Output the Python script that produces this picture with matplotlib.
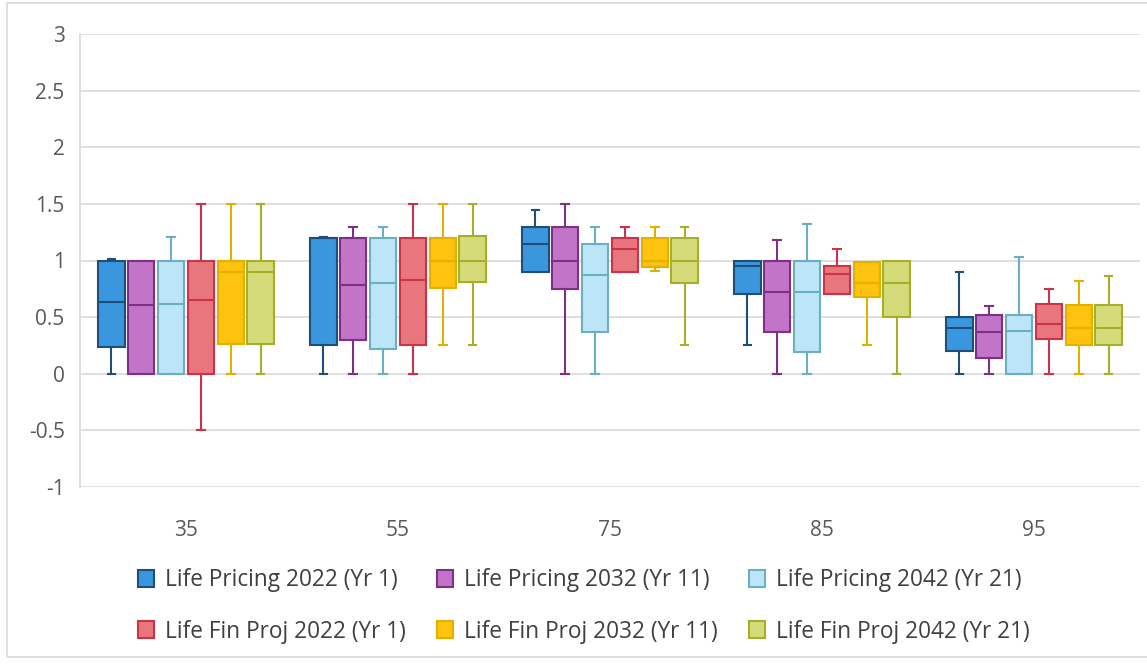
import matplotlib
matplotlib.use("Agg")
import matplotlib.pyplot as plt
from matplotlib.patches import Patch, Rectangle

plt.rcParams['font.family'] = ['Open Sans', 'DejaVu Sans']

# Age bands on the x axis
categories = ["35", "55", "75", "85", "95"]

# Box statistics per age band: (min, q1, median, q3, max)
life_pricing_2022 = [(0.00, 0.24, 0.63, 1.00, 1.01), (0.00, 0.25, 1.20, 1.20, 1.21),
                     (0.90, 0.90, 1.15, 1.30, 1.45), (0.25, 0.70, 0.95, 1.00, 1.00),
                     (0.00, 0.20, 0.40, 0.50, 0.90)]
life_pricing_2032 = [(0.00, 0.00, 0.61, 1.00, 1.00), (0.00, 0.30, 0.78, 1.20, 1.30),
                     (0.00, 0.75, 1.00, 1.30, 1.50), (0.00, 0.37, 0.72, 1.00, 1.18),
                     (0.00, 0.14, 0.37, 0.52, 0.60)]
life_pricing_2042 = [(0.00, 0.00, 0.62, 1.00, 1.21), (0.00, 0.22, 0.80, 1.20, 1.30),
                     (0.00, 0.37, 0.87, 1.15, 1.30), (0.00, 0.19, 0.72, 1.00, 1.32),
                     (0.00, 0.00, 0.38, 0.52, 1.03)]
life_fin_proj_2022 = [(-0.50, 0.00, 0.65, 1.00, 1.50), (0.00, 0.25, 0.83, 1.20, 1.50),
                      (0.90, 0.90, 1.10, 1.20, 1.30), (0.70, 0.70, 0.88, 0.95, 1.10),
                      (0.00, 0.31, 0.44, 0.62, 0.75)]
life_fin_proj_2032 = [(0.00, 0.26, 0.90, 1.00, 1.50), (0.25, 0.76, 1.00, 1.20, 1.50),
                      (0.91, 0.94, 1.00, 1.20, 1.30), (0.25, 0.68, 0.80, 0.99, 0.99),
                      (0.00, 0.25, 0.40, 0.61, 0.82)]
life_fin_proj_2042 = [(0.00, 0.26, 0.90, 1.00, 1.50), (0.25, 0.81, 1.00, 1.22, 1.50),
                      (0.25, 0.80, 1.00, 1.20, 1.30), (0.00, 0.50, 0.80, 1.00, 1.00),
                      (0.00, 0.25, 0.40, 0.61, 0.86)]

series_labels = ["Life Pricing 2022 (Yr 1)", "Life Pricing 2032 (Yr 11)", "Life Pricing 2042 (Yr 21)",
                 "Life Fin Proj 2022 (Yr 1)", "Life Fin Proj 2032 (Yr 11)", "Life Fin Proj 2042 (Yr 21)"]
series_data = [life_pricing_2022, life_pricing_2032, life_pricing_2042,
               life_fin_proj_2022, life_fin_proj_2032, life_fin_proj_2042]
face_colors = ["#3A97DD", "#C274C8", "#BDE5F8", "#E9767C", "#FFC20E", "#D5DB79"]
edge_colors = ["#1F4E79", "#7E3184", "#6BB0C0", "#C9334B", "#E2B100", "#A6AE2C"]

fig = plt.figure(figsize=(11.47, 6.71), dpi=100)
ax = fig.add_axes([80 / 1147, 1 - 487 / 671, 1060 / 1147, 453 / 671])

step = 0.141
width = 0.125
for k, (data, fc, ec) in enumerate(zip(series_data, face_colors, edge_colors)):
    stats = [dict(whislo=s[0], q1=s[1], med=s[2], q3=s[3], whishi=s[4], fliers=[])
             for s in data]
    pos = [i + (k - 2.5) * step for i in range(len(categories))]
    ax.bxp(stats, positions=pos, widths=width, patch_artist=True, showfliers=False,
           capwidths=0.035,
           boxprops=dict(facecolor=fc, edgecolor=ec, linewidth=1.5),
           medianprops=dict(color=ec, linewidth=1.5),
           whiskerprops=dict(color=ec, linewidth=1.5),
           capprops=dict(color=ec, linewidth=1.5),
           manage_ticks=False, zorder=3)

ax.set_xlim(-0.5, len(categories) - 0.5)
ax.set_ylim(-1, 3)
ax.set_yticks([-1, -0.5, 0, 0.5, 1, 1.5, 2, 2.5, 3])
ax.set_yticklabels(["-1", "-0.5", "0", "0.5", "1", "1.5", "2", "2.5", "3"])
ax.set_xticks(range(len(categories)))
ax.set_xticklabels(categories)
ax.tick_params(axis='both', length=0, labelsize=15, labelcolor="#595959")
ax.tick_params(axis='x', pad=24)
ax.tick_params(axis='y', pad=11)
ax.grid(axis='y', color="#D9D9D9", linewidth=1.2, zorder=0)
for side in ("top", "right", "bottom"):
    ax.spines[side].set_visible(False)
ax.spines["left"].set_color("#D9D9D9")
ax.spines["left"].set_linewidth(1.2)

handles = [Patch(facecolor=fc, edgecolor=ec, linewidth=1.5, label=lab)
           for fc, ec, lab in zip(face_colors, edge_colors, series_labels)]
order = [0, 3, 1, 4, 2, 5]
fig.legend([handles[i] for i in order], [series_labels[i] for i in order],
           loc="center", bbox_to_anchor=(584 / 1147, 1 - 606 / 671), ncol=3,
           frameon=False, fontsize=16.3, labelcolor="#404040",
           handlelength=0.7, handleheight=0.75, handletextpad=0.5,
           columnspacing=1.38, labelspacing=1.2)

fig.patches.append(Rectangle((7 / 1147, 1 - 657 / 671), 1.2, 654 / 671,
                             transform=fig.transFigure, fill=False,
                             edgecolor="#D9D9D9", linewidth=1.2))

fig.savefig("out.png", dpi=100, facecolor="white")
